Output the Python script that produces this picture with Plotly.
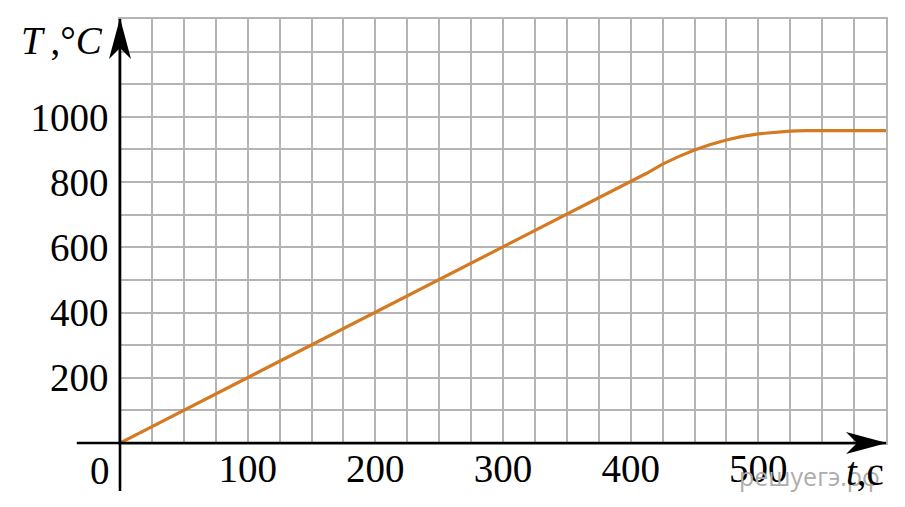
import plotly.graph_objects as go

# ---- data ----
time_s = [0, 400, 412.5, 425, 437.5, 450, 462.5, 475, 487.5, 500, 512.5, 525, 537.5, 550, 600]
temp_c = [0, 800, 827, 855, 878, 898, 915, 929, 940, 948, 953, 956, 958, 958, 958]

x_tick_vals = [100, 200, 300, 400, 500]
x_tick_text = ["100", "200", "300", "400", "500"]
y_tick_vals = [200, 400, 600, 800, 1000]
y_tick_text = ["200", "400", "600", "800", "1000"]

x_min, x_max, x_grid_step = 0, 600, 25
y_min, y_max, y_grid_step = 0, 1300, 100
x_axis_tail = -35     # x-axis drawn from here (left of origin)
y_axis_tail = -152    # y-axis drawn from here (below origin)

SERIF = "Liberation Serif"
GRID = "#b4b4b4"
LINE = "#d47a22"

fig = go.Figure()
fig.add_trace(go.Scatter(
    x=time_s, y=temp_c, mode="lines",
    line=dict(color=LINE, width=3.2),
    hoverinfo="skip", showlegend=False,
))

axis_common = dict(
    showgrid=True, gridcolor=GRID, gridwidth=1.6,
    zeroline=False, showline=True, mirror=True, linecolor=GRID, linewidth=1.6,
    ticks="", tickfont=dict(family=SERIF, size=39, color="black"),
    fixedrange=True,
)

fig.update_xaxes(
    range=[x_min, x_max], tickmode="array", tickvals=x_tick_vals, ticktext=x_tick_text,
    minor=dict(dtick=x_grid_step, tick0=0, showgrid=True, gridcolor=GRID, gridwidth=1.6),
    ticklabelstandoff=-10, **axis_common,
)
fig.update_yaxes(
    range=[y_min, y_max], tickmode="array", tickvals=y_tick_vals, ticktext=y_tick_text,
    minor=dict(dtick=y_grid_step, tick0=0, showgrid=True, gridcolor=GRID, gridwidth=1.6),
    ticklabelstandoff=2, **axis_common,
)

annotations = [
    # watermark (behind the labels)
    dict(xref="paper", yref="paper", x=0.8995, y=-0.078, text="решуегэ.рф",
         showarrow=False, font=dict(family="Open Sans", size=25, color="#adadad"),
         xanchor="center", yanchor="middle"),
    # x axis line
    dict(x=x_max, y=0, ax=x_axis_tail, ay=0, axref="x", ayref="y", xref="x", yref="y",
         text="", showarrow=True, arrowhead=0, arrowwidth=2.6, arrowcolor="black",
         standoff=0, startstandoff=0),
    # y axis line
    dict(x=0, y=y_max, ax=0, ay=y_axis_tail, axref="x", ayref="y", xref="x", yref="y",
         text="", showarrow=True, arrowhead=0, arrowwidth=2.6, arrowcolor="black",
         standoff=0, startstandoff=0),
    # origin label
    dict(x=0, y=0, xref="x", yref="y", text="0", showarrow=False,
         xanchor="center", yanchor="middle", xshift=-20, yshift=-27,
         font=dict(family=SERIF, size=39, color="black")),
    # axis titles
    dict(x=x_max, y=0, xref="x", yref="y", text="<i>t</i>,c", showarrow=False,
         xanchor="right", yanchor="middle", xshift=0, yshift=-28,
         font=dict(family=SERIF, size=39, color="black")),
    dict(x=0, y=y_max, xref="x", yref="y", text="<i>T</i>\u2009,°<i>C</i>", showarrow=False,
         xanchor="right", yanchor="middle", xshift=-15, yshift=-21,
         font=dict(family=SERIF, size=39, color="black")),
]

shapes = [
    # x arrowhead (tip at right end of x axis)
    dict(type="path", xref="x domain", yref="y domain", xsizemode="pixel", ysizemode="pixel",
         xanchor=1, yanchor=0, path="M 1,0 L -40,11 L -29,0 L -40,-11 Z",
         fillcolor="black", line=dict(width=0), layer="above"),
    # y arrowhead (tip at top of y axis)
    dict(type="path", xref="x domain", yref="y domain", xsizemode="pixel", ysizemode="pixel",
         xanchor=0, yanchor=1, path="M 0,1 L -11,-40 L 0,-29 L 11,-40 Z",
         fillcolor="black", line=dict(width=0), layer="above"),
]

fig.update_layout(
    width=905, height=507,
    margin=dict(l=120, r=19, t=19, b=64, pad=0),
    paper_bgcolor="white", plot_bgcolor="white",
    annotations=annotations, shapes=shapes,
    showlegend=False,
)

fig.write_html("out.html", config=dict(displayModeBar=False),
               post_script="document.body.style.margin='0';")
